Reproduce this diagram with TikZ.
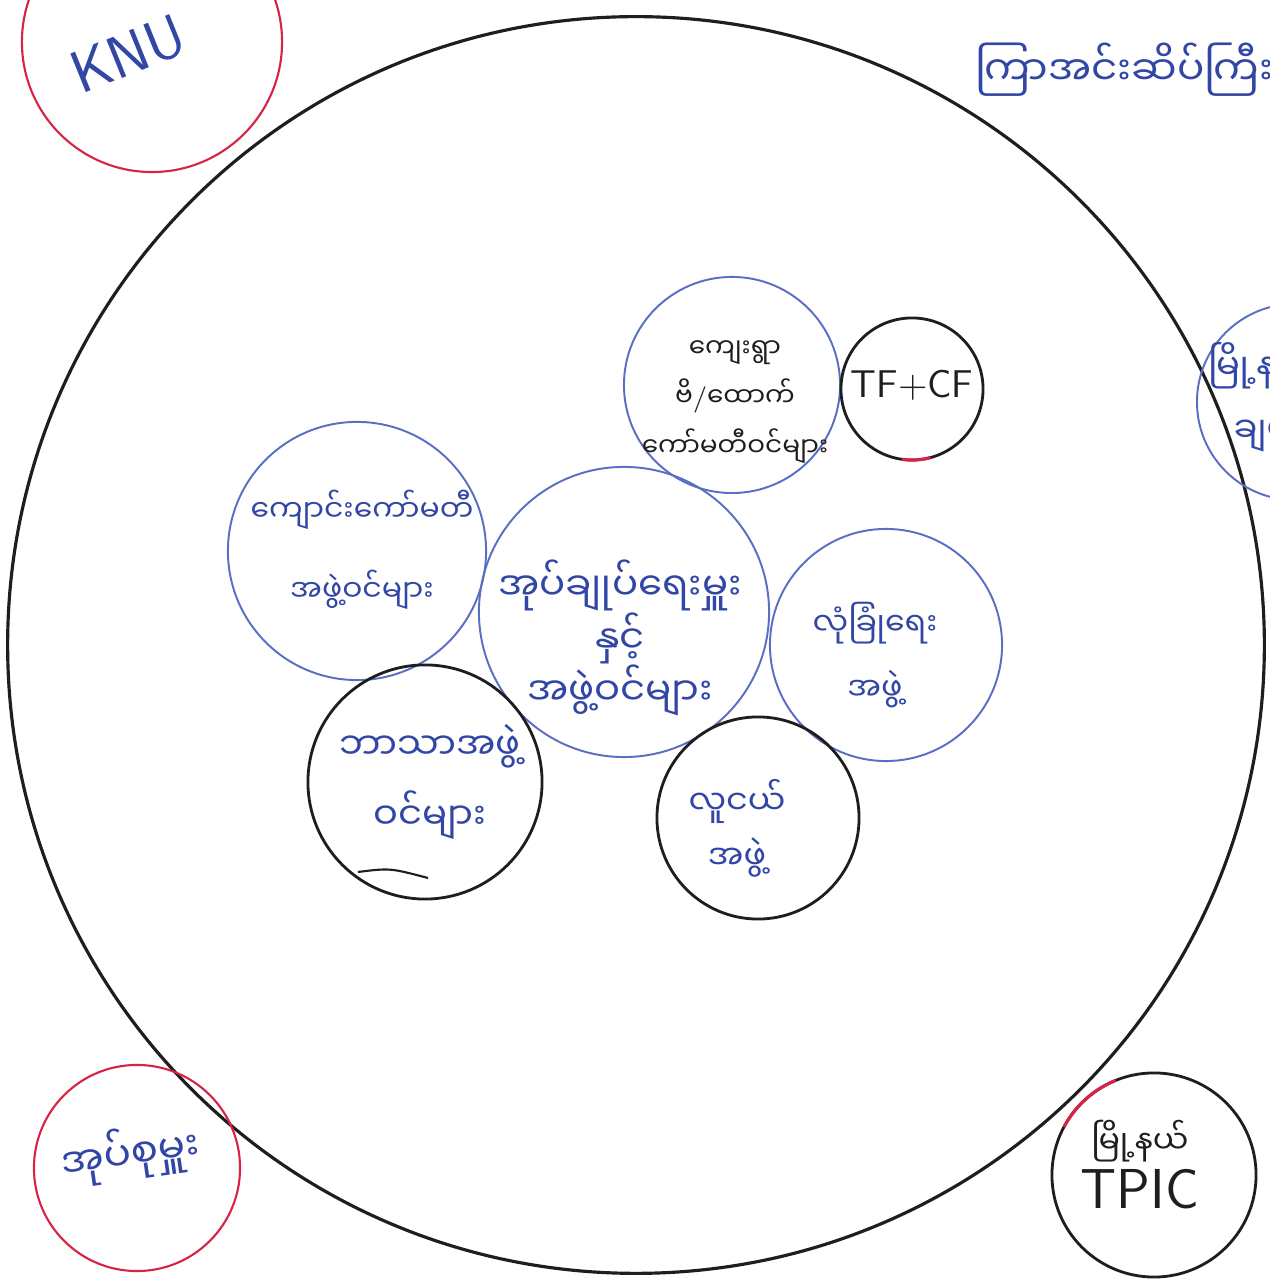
\documentclass[tikz,border=0pt]{standalone}
\usepackage{fontspec}
\newfontfamily\mmfont[Script=Myanmar]{Noto Sans Myanmar UI}
\definecolor{penblue}{RGB}{50,70,165}
\definecolor{ringblue}{RGB}{90,110,195}
\definecolor{ringred}{RGB}{215,35,70}
\definecolor{penblack}{RGB}{30,30,30}

\begin{document}
\begin{tikzpicture}[x=0.01cm,y=0.01cm,
  every node/.style={inner sep=0pt,outer sep=0pt,align=center,text=penblue},
  ring/.style={circle,minimum size=#1},
  bluering/.style={ring=#1,draw=ringblue,line width=0.55pt},
  redring/.style={ring=#1,draw=ringred,line width=0.6pt},
  blackring/.style={ring=#1,draw=penblack,line width=0.8pt},
  mm/.style 2 args={font=\mmfont\fontsize{#1}{#2}\selectfont},
  latin/.style={font=\sffamily\fontsize{#1}{#1}\selectfont}]
\useasboundingbox (0,0) rectangle (1270,1282);
\fill[white] (0,0) rectangle (1270,1282);
\clip (0,0) rectangle (1270,1282);
% outer ring
\node[blackring=12.56cm,line width=0.9pt] at(636,637)(area){};
% groups outside the ring
\node[redring=2.6cm] at(152,1240)(knu){};
\node[latin=17,rotate=22] at(128,1228)(knulabel){KNU};
\node[redring=2.06cm] at(137,114)(leader){};
\node[mm={11.5}{16},rotate=8] at(130,128)(leaderlabel){အုပ်စုမှူး};
\node[blackring=2.04cm] at(1154,107)(tpic){};
\node[mm={9}{15.6},text=penblack] at(1140,117)(tpiclabel)
  {မြို့နယ်\\{\sffamily\fontsize{16}{16}\selectfont TPIC}};
\draw[ringred,line width=0.9pt] (tpic.112) arc[start angle=112,end angle=152,radius=1.02cm];
\node[bluering=1.96cm] at(1295,880)(town){};
\node[mm={10}{18},anchor=west] at(1208,885)(townlabel){မြို့နယ်\\ချမှ};
\node[mm={11.5}{11.5},anchor=west] at(975,1212)(place){ကြာအင်းဆိပ်ကြီး};
% groups inside the ring
\node[bluering=2.16cm] at(732,897)(village){};
\node[mm={7.5}{14},text=penblack] at(735,880)(villagelabel)
  {ကျေးရွာ\\ဗိ{\sffamily/}ထောက်\\ကော်မတီဝင်များ};
\node[blackring=1.42cm] at(912,893)(tfcf){};
\node[latin=11,text=penblack] at(912,897)(tfcflabel){TF+CF};
\draw[ringred,line width=0.9pt] (tfcf.262) arc[start angle=262,end angle=285,radius=0.71cm];
\node[bluering=2.58cm] at(357,731)(school){};
\node[mm={8.5}{22.8}] at(362,732)(schoollabel){ကျောင်းကော်မတီ\\အဖွဲ့ဝင်များ};
\node[bluering=2.9cm] at(624,670)(admin){};
\node[mm={11}{15}] at(620,644)(adminlabel){အုပ်ချုပ်ရေးမှူး\\နှင့်\\အဖွဲ့ဝင်များ};
\node[bluering=2.32cm] at(886,637)(security){};
\node[mm={9}{18.5}] at(875,627)(securitylabel){လုံခြုံရေး\\အဖွဲ့};
\node[blackring=2.34cm] at(425,500)(religion){};
\node[mm={10.5}{20}] at(430,500)(religionlabel){ဘာသာအဖွဲ့\\ဝင်များ};
\draw[penblack,line width=0.6pt] (358,410) .. controls (390,414) .. (428,404);
\node[blackring=2.02cm] at(758,464)(youth){};
\node[mm={9.5}{15.6}] at(737,454)(youthlabel){လူငယ်\\အဖွဲ့};
\end{tikzpicture}
\end{document}
